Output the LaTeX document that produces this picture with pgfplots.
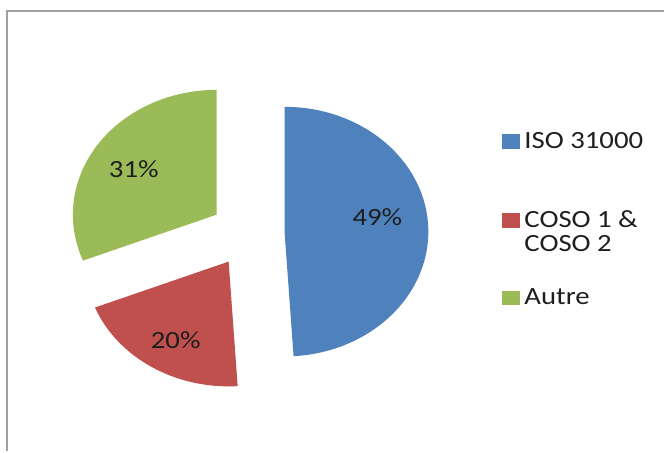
\documentclass[border=0pt]{standalone}
\usepackage{pgfplots}
\pgfplotsset{compat=1.18}
\usepackage{graphicx}
\usepackage{fontspec}
\setmainfont{Carlito}
\definecolor{cBlue}{HTML}{4F81BD}
\definecolor{cRed}{HTML}{C0504D}
\definecolor{cGreen}{HTML}{9BBB59}
\definecolor{cFrame}{HTML}{A0A0A0}
\definecolor{cText}{HTML}{1E1E1E}
% slice shares (percent)
\def\vISO{49}
\def\vCOSO{20}
\def\vAutre{31}
\newcommand{\lbl}[1]{\scalebox{1.16}[1]{\fontsize{18.6}{22}\selectfont\color{cText}#1}}
\begin{document}
\begin{tikzpicture}
\pgfmathsetmacro{\aA}{90}
\pgfmathsetmacro{\aB}{90-3.6*\vISO}
\pgfmathsetmacro{\aC}{\aB-3.6*\vCOSO}
\pgfmathsetmacro{\aD}{\aC-3.6*\vAutre}
\begin{axis}[
  width=498.75pt, height=339pt, scale only axis,
  xmin=0, xmax=665, ymin=0, ymax=452, y dir=reverse,
  hide axis, clip=false,
]
\path (axis cs:0,0) rectangle (axis cs:665,452);
% frame
\draw[cFrame, line width=1.6pt] (axis cs:7,452) -- (axis cs:7,11) -- (axis cs:665,11);
% exploded slices
\fill[cBlue] (axis cs:285,232) -- ++(\aA:108pt and 93.75pt)
  arc[start angle=\aA, end angle=\aB, x radius=108pt, y radius=93.75pt] -- cycle;
\fill[cRed] (axis cs:229,262) -- ++(\aB:108pt and 93.75pt)
  arc[start angle=\aB, end angle=\aC, x radius=108pt, y radius=93.75pt] -- cycle;
\fill[cGreen] (axis cs:217,215) -- ++(\aC:108pt and 93.75pt)
  arc[start angle=\aC, end angle=\aD, x radius=108pt, y radius=93.75pt] -- cycle;
% data labels
\addplot[draw=none, mark=none, nodes near coords, point meta=explicit symbolic,
  nodes near coords style={anchor=center, inner sep=0pt}]
  coordinates {(378,218) [\lbl{49\%}] (176,340.5) [\lbl{20\%}] (134,169.5) [\lbl{31\%}]};
% legend
\fill[cBlue] (axis cs:503,134) rectangle (axis cs:521,149);
\fill[cRed] (axis cs:503,213) rectangle (axis cs:521,228);
\fill[cGreen] (axis cs:503,291) rectangle (axis cs:521,305);
\node[anchor=base west, inner sep=0pt] at (axis cs:525,149) {\lbl{ISO 31000}};
\node[anchor=base west, inner sep=0pt] at (axis cs:525,228) {\lbl{COSO 1 \&}};
\node[anchor=base west, inner sep=0pt] at (axis cs:525,252) {\lbl{COSO 2}};
\node[anchor=base west, inner sep=0pt] at (axis cs:525,305) {\lbl{Autre}};
\end{axis}
\end{tikzpicture}
\end{document}
